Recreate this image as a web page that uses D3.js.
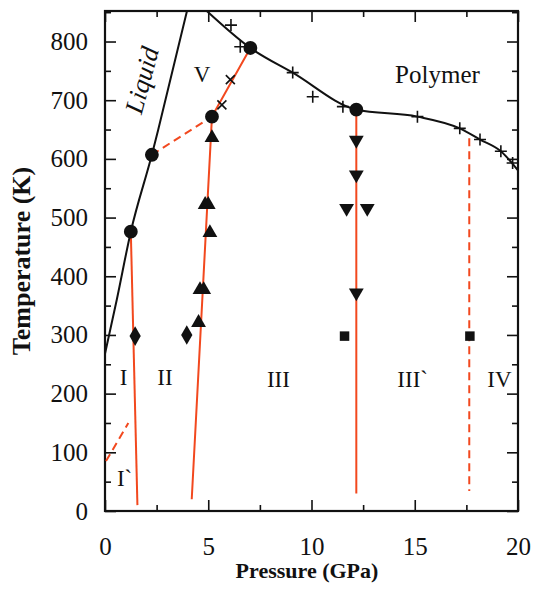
<!DOCTYPE html>
<html>
<head>
<meta charset="utf-8">
<script src="https://d3js.org/d3.v7.min.js"></script>
<style>
  body { margin: 0; background: #fff; }
  text { font-family: "Liberation Serif", "Times New Roman", serif; fill: #111; }
</style>
</head>
<body>
<svg id="chart" width="535" height="600"></svg>
<script>
// phase boundaries (pressure GPa, temperature K)
const liquidLine = [[0, 268], [0.57, 360], [1.25, 476], [2.27, 607], [2.58, 650], [3.97, 852]];
const polymerLine = [[4.93, 852], [7.04, 789], [9.09, 747], [12.17, 684], [15.13, 672], [17.18, 652], [18.16, 633], [19.17, 613], [20.1, 576]];

const redSolid = [
  [[1.25, 476], [1.57, 10]],
  [[4.2, 20], [5.18, 672], [7.04, 789]],
  [[12.17, 684], [12.17, 30]]
];
const redDashed = [
  [[2.27, 607], [5.18, 672]],
  [[17.64, 635], [17.64, 34]],
  [[0.05, 85], [1.13, 150]]
];

// markers
const circles = [[1.25, 476], [2.27, 607], [5.18, 672], [7.04, 789], [12.17, 684]];
const plusPts = [[6.1, 828], [6.55, 791], [9.09, 747], [10.06, 706], [11.52, 689], [15.13, 672], [17.18, 652], [18.16, 633], [19.17, 613], [19.74, 593]];
const crossPts = [[5.66, 692], [6.07, 735]];
const upTriangles = [[5.18, 636], [4.85, 522], [5.0, 522], [5.08, 474], [4.6, 377], [4.78, 377], [4.53, 321]];
const downTriangles = [[12.17, 632], [12.17, 573], [11.7, 516], [12.7, 516], [12.17, 372]];
const diamonds = [[1.46, 298], [3.96, 300]];
const squares = [[11.6, 298], [17.67, 298]];

// phase labels
const phaseLabels = [
  { text: "I", p: 0.9, t: 215 },
  { text: "II", p: 2.9, t: 215 },
  { text: "III", p: 8.4, t: 212 },
  { text: "III`", p: 14.9, t: 212 },
  { text: "IV", p: 19.1, t: 212 },
  { text: "I`", p: 0.95, t: 42 },
  { text: "V", p: 4.7, t: 731 }
];

const xMajor = [0, 5, 10, 15, 20];
const xMinor = [2.5, 7.5, 12.5, 17.5];
const yMajor = [0, 100, 200, 300, 400, 500, 600, 700, 800];
const yMinor = [50, 150, 250, 350, 450, 550, 650, 750, 850];

const margin = { top: 11, right: 17, bottom: 89, left: 105 };
const W = 535, H = 600;
const width = W - margin.left - margin.right;
const height = H - margin.top - margin.bottom;
const red = "#f2481e";
const serif = "'Liberation Serif', 'Times New Roman', serif";

const svg = d3.select("#chart");
const g = svg.append("g").attr("transform", `translate(${margin.left},${margin.top})`);

const x = d3.scaleLinear().domain([0, 20]).range([0, width]);
const y = d3.scaleLinear().domain([0, 852]).range([height, 0]);

g.append("clipPath").attr("id", "clip")
  .append("rect").attr("width", width).attr("height", height);

// axes, ticks inward on every side
function styleAxis(sel) {
  sel.attr("font-family", null);
  sel.select(".domain").remove();
  sel.selectAll("line").attr("stroke", "#111").attr("stroke-width", 1.6);
  sel.selectAll("text").style("font-family", serif).style("font-size", "25px").style("fill", "#111");
}
g.append("g").attr("transform", `translate(0,${height})`)
  .call(d3.axisBottom(x).tickValues(xMajor).tickSize(-11).tickPadding(26)).call(styleAxis);
g.append("g").attr("transform", `translate(0,${height})`)
  .call(d3.axisBottom(x).tickValues(xMinor).tickSize(-6).tickFormat("")).call(styleAxis);
g.append("g")
  .call(d3.axisTop(x).tickValues(xMajor).tickSize(-11).tickFormat("")).call(styleAxis);
g.append("g")
  .call(d3.axisTop(x).tickValues(xMinor).tickSize(-6).tickFormat("")).call(styleAxis);
g.append("g")
  .call(d3.axisLeft(y).tickValues(yMajor).tickSize(-11).tickPadding(17)).call(styleAxis);
g.append("g")
  .call(d3.axisLeft(y).tickValues(yMinor).tickSize(-6).tickFormat("")).call(styleAxis);
g.append("g").attr("transform", `translate(${width},0)`)
  .call(d3.axisRight(y).tickValues(yMajor).tickSize(-11).tickFormat("")).call(styleAxis);
g.append("g").attr("transform", `translate(${width},0)`)
  .call(d3.axisRight(y).tickValues(yMinor).tickSize(-6).tickFormat("")).call(styleAxis);

g.append("rect").attr("width", width).attr("height", height)
  .attr("fill", "none").attr("stroke", "#111").attr("stroke-width", 2.2);

const plot = g.append("g").attr("clip-path", "url(#clip)");
const line = d3.line().x(d => x(d[0])).y(d => y(d[1]));
const smooth = d3.line().x(d => x(d[0])).y(d => y(d[1])).curve(d3.curveMonotoneX);

// red boundaries
plot.selectAll(".red-solid").data(redSolid).enter().append("path")
  .attr("d", line).attr("fill", "none").attr("stroke", red).attr("stroke-width", 2);
plot.selectAll(".red-dash").data(redDashed).enter().append("path")
  .attr("d", line).attr("fill", "none").attr("stroke", red).attr("stroke-width", 2)
  .attr("stroke-dasharray", "8,5");

// black boundaries
plot.append("path").datum(liquidLine).attr("d", smooth)
  .attr("fill", "none").attr("stroke", "#111").attr("stroke-width", 2);
plot.append("path").datum(polymerLine).attr("d", smooth)
  .attr("fill", "none").attr("stroke", "#111").attr("stroke-width", 2);

// markers
const sym = (type, size) => d3.symbol().type(type).size(size)();
function markers(data, path, rot) {
  plot.append("g").selectAll("path").data(data).enter().append("path")
    .attr("transform", d => `translate(${x(d[0])},${y(d[1])})` + (rot ? ` rotate(${rot})` : ""))
    .attr("d", path).attr("fill", "#111");
}
markers(circles, sym(d3.symbolCircle, 150));
markers(upTriangles, sym(d3.symbolTriangle, 95));
markers(downTriangles, sym(d3.symbolTriangle, 95), 180);
markers(diamonds, sym(d3.symbolDiamond, 110));
markers(squares, sym(d3.symbolSquare, 90));

plot.append("g").selectAll("path").data(plusPts).enter().append("path")
  .attr("transform", d => `translate(${x(d[0])},${y(d[1])})`)
  .attr("d", "M-6,0H6M0,-6V6").attr("stroke", "#111").attr("stroke-width", 1.6);
plot.append("g").selectAll("path").data(crossPts).enter().append("path")
  .attr("transform", d => `translate(${x(d[0])},${y(d[1])})`)
  .attr("d", "M-4.5,-4.5L4.5,4.5M-4.5,4.5L4.5,-4.5").attr("stroke", "#111").attr("stroke-width", 1.6);

// region labels
g.selectAll(".phase").data(phaseLabels).enter().append("text")
  .attr("x", d => x(d.p)).attr("y", d => y(d.t))
  .attr("text-anchor", "middle").style("font-size", "23px")
  .text(d => d.text);

g.append("text").attr("x", x(16.1)).attr("y", y(730))
  .attr("text-anchor", "middle").style("font-size", "25px").text("Polymer");

g.append("text")
  .attr("transform", `translate(${x(1.8)},${y(734)}) rotate(-75)`)
  .attr("text-anchor", "middle").attr("dominant-baseline", "central")
  .style("font-size", "26px").style("font-style", "italic").text("Liquid");

// axis titles
svg.append("text").attr("x", 307).attr("y", 578)
  .attr("text-anchor", "middle").style("font-size", "22px").style("font-weight", "bold")
  .style("font-family", serif)
  .text("Pressure (GPa)");
svg.append("text").attr("transform", "translate(30,261) rotate(-90)")
  .attr("text-anchor", "middle").style("font-size", "26px").style("font-weight", "bold")
  .style("font-family", serif)
  .text("Temperature (K)");
</script>
</body>
</html>
